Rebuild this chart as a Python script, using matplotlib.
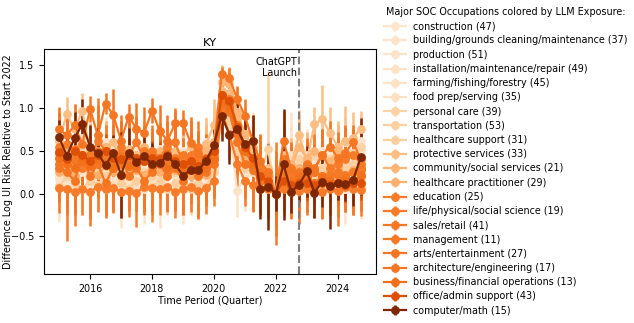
import numpy as np
import matplotlib
matplotlib.use('Agg')
from matplotlib import pyplot as plt

quarters = [2015 + 0.25 * i for i in range(40)]
chatgpt_launch = 2022.75

occupations = ['construction (47)', 'building/grounds cleaning/maintenance (37)', 'production (51)',
               'installation/maintenance/repair (49)', 'farming/fishing/forestry (45)', 'food prep/serving (35)',
               'personal care (39)', 'transportation (53)', 'healthcare support (31)', 'protective services (33)',
               'community/social services (21)', 'healthcare practitioner (29)', 'education (25)',
               'life/physical/social science (19)', 'sales/retail (41)', 'management (11)',
               'arts/entertainment (27)', 'architecture/engineering (17)', 'business/financial operations (13)',
               'office/admin support (43)', 'computer/math (15)']

# LLM exposure mapped onto the Oranges colormap
exposure = [0.13, 0.14, 0.14, 0.15, 0.15, 0.16, 0.24, 0.25, 0.26, 0.32, 0.35, 0.37,
            0.56, 0.56, 0.57, 0.57, 0.58, 0.58, 0.6, 0.72, 1.0]

construction = [0.45,0.40,0.30,0.50, 0.35,0.28,0.42,0.33, 0.30,0.38,0.25,0.40, 0.28,0.35,0.30,0.42, 0.25,0.30,0.22,0.35,
                0.55,1.38,1.33,0.88, 0.50,0.35,0.20,0.15, 0.00,0.25,0.30,0.48, 0.35,0.40,0.30,0.45, 0.38,0.40,0.35,0.50]
building = [0.20,0.15,0.05,0.25, 0.30,0.10,0.20,0.15, 0.25,0.12,0.20,0.08, 0.18,0.22,0.10,0.05, 0.15,0.20,0.08,0.12,
            0.35,1.05,0.95,0.60, 0.40,0.30,0.10,0.05, 0.00,0.15,0.20,0.35, 0.10,0.18,0.25,0.15, 0.20,0.30,0.22,0.18]
production = [0.60,0.55,0.50,0.65, 0.45,0.50,0.60,0.55, 0.48,0.42,0.55,0.50, 0.45,0.52,0.40,0.48, 0.50,0.38,0.42,0.60,
              0.62,1.20,1.18,0.75, 0.45,0.40,0.25,0.20, 0.00,0.30,0.40,0.62, 0.45,0.35,0.50,0.40, 0.55,0.60,0.45,0.62]
installation = [0.35,0.30,0.40,0.28, 0.38,0.30,0.25,0.40, 0.32,0.28,0.35,0.30, 0.38,0.30,0.28,0.35, 0.30,0.32,0.25,0.30,
                0.45,1.10,1.05,0.70, 0.50,0.38,0.18,0.10, 0.00,0.20,0.15,0.25, 0.30,0.22,0.28,0.30, 0.25,0.30,0.28,0.35]
farming = [0.17,0.40,0.10,0.30, 0.05,0.35,0.15,0.50, 0.10,0.25,0.40,0.05, 0.30,0.10,0.35,0.20, 0.05,0.40,0.10,0.25,
           0.60,0.95,0.80,0.03, 0.20,0.45,0.30,0.10, 0.00,0.20,0.45,0.40, 0.15,0.30,0.10,0.35, 0.20,0.05,0.30,0.10]
food_prep = [0.10,0.08,0.15,0.05, 0.12,0.10,0.05,0.15, 0.08,0.12,0.05,0.10, 0.15,0.08,0.10,0.05, 0.12,0.10,0.05,0.08,
             0.30,1.00,0.90,0.55, 0.35,0.25,0.10,0.05, 0.00,0.10,0.05,0.15, 0.08,0.12,0.05,0.10, 0.08,0.05,0.10,0.12]
personal_care = [0.50,0.45,0.38,0.55, 0.42,0.35,0.48,0.40, 0.45,0.38,0.30,0.45, 0.35,0.40,0.42,0.30, 0.38,0.35,0.30,0.40,
                 0.50,1.20,1.15,0.85, 0.60,0.45,0.25,0.20, 0.00,0.30,0.25,0.40, 0.35,0.45,0.30,0.40, 0.42,0.35,0.48,0.55]
transportation = [0.28,0.35,0.22,0.30, 0.25,0.32,0.20,0.28, 0.30,0.22,0.28,0.25, 0.20,0.28,0.32,0.25, 0.22,0.30,0.25,0.28,
                  0.40,1.05,1.00,0.65, 0.45,0.35,0.20,0.52, 0.00,0.18,0.35,0.30, 0.25,0.20,0.28,0.32, 0.30,0.25,0.35,0.30]
hc_support = [0.08,0.20,0.12,0.05, 0.15,0.10,0.20,0.08, 0.12,0.05,0.15,0.10, 0.08,0.15,0.05,0.12, 0.10,0.05,0.12,0.08,
              0.25,0.95,0.85,0.50, 0.30,0.25,0.15,0.10, 0.00,0.10,0.15,0.20, 0.10,0.15,0.08,0.20, 0.15,0.10,0.12,0.08]
protective = [0.62,0.93,0.75,0.97, 0.50,0.45,0.55,0.60, 0.40,0.52,0.45,0.48, 0.40,0.45,0.52,0.50, 0.45,0.55,0.40,0.58,
              0.80,1.20,1.18,0.90, 0.70,0.50,0.30,0.30, 0.00,0.45,0.35,0.68, 0.38,0.81,0.87,0.71, 0.55,0.62,0.65,0.76]
community = [0.40,0.50,0.45,0.35, 0.52,0.40,0.55,0.45, 0.50,0.42,0.38,0.55, 0.45,0.50,0.42,0.38, 0.45,0.40,0.35,0.50,
             0.60,1.30,1.28,0.95, 0.70,0.55,0.30,0.25, 0.00,0.35,0.30,0.55, 0.42,0.50,0.45,0.38, 0.50,0.48,0.45,0.42]
hc_practitioner = [0.25,0.30,0.20,0.35, 0.28,0.22,0.32,0.25, 0.20,0.30,0.28,0.22, 0.32,0.25,0.20,0.28, 0.25,0.20,0.28,0.22,
                   0.40,1.00,0.98,0.60, 0.40,0.32,0.20,0.15, 0.00,0.20,0.25,0.30, 0.22,0.28,0.20,0.25, 0.30,0.22,0.28,0.30]
education = [0.07,0.05,0.02,0.05, 0.02,0.08,0.05,0.07, 0.02,0.03,0.01,0.08, 0.07,0.05,0.08,0.02, 0.05,0.08,0.03,0.06,
             0.15,0.95,0.70,0.35, 0.15,0.10,0.05,0.05, 0.00,0.05,0.02,0.03, 0.05,0.03,0.02,0.05, 0.03,0.08,0.05,0.04]
life_science = [0.55,0.58,0.45,0.30, 0.38,0.62,0.50,0.35, 0.55,0.45,0.60,0.40, 0.50,0.42,0.55,0.60, 0.35,0.45,0.55,0.30,
                0.40,1.10,1.02,0.80, 0.55,0.40,0.30,0.20, 0.00,0.40,0.30,0.20, 0.35,0.30,0.45,0.30, 0.35,0.40,0.45,0.35]
sales = [0.35,0.42,0.38,0.45, 0.40,0.35,0.42,0.38, 0.35,0.40,0.42,0.38, 0.40,0.35,0.38,0.42, 0.35,0.38,0.30,0.35,
         0.45,1.15,1.10,0.80, 0.55,0.40,0.22,0.15, 0.00,0.22,0.20,0.25, 0.22,0.25,0.20,0.22, 0.25,0.22,0.25,0.28]
management = [0.48,0.40,0.52,0.42, 0.45,0.50,0.40,0.48, 0.42,0.45,0.38,0.50, 0.45,0.42,0.48,0.40, 0.45,0.35,0.40,0.42,
              0.50,1.12,1.05,0.70, 0.50,0.38,0.20,0.12, 0.00,0.25,0.18,0.22, 0.20,0.25,0.18,0.20, 0.22,0.20,0.25,0.30]
arts = [0.76,0.68,0.80,0.58, 0.99,0.68,1.05,0.92, 0.62,0.90,0.76,0.71, 0.97,0.73,0.62,0.82, 0.83,0.59,0.48,0.40,
        0.50,1.40,1.35,1.11, 0.91,0.62,0.38,0.25, 0.00,0.62,0.28,0.22, 0.33,0.28,0.45,0.55, 0.42,0.48,0.60,0.40]
architecture = [0.30,0.25,0.15,0.45, 0.20,0.35,0.12,0.30, 0.45,0.20,0.30,0.15, 0.25,0.35,0.20,0.30, 0.15,0.28,0.20,0.25,
                0.35,1.05,0.95,0.60, 0.35,0.28,0.15,0.10, 0.00,0.20,0.10,0.15, 0.18,0.12,0.20,0.15, 0.12,0.18,0.15,0.20]
business = [0.42,0.35,0.30,0.38, 0.32,0.40,0.35,0.30, 0.38,0.32,0.35,0.40, 0.32,0.38,0.30,0.35, 0.30,0.32,0.28,0.30,
            0.40,1.08,1.00,0.72, 0.50,0.35,0.18,0.10, 0.00,0.15,0.12,0.18, 0.15,0.12,0.18,0.15, 0.12,0.15,0.12,0.22]
office_admin = [0.49,0.40,0.50,0.45, 0.38,0.45,0.50,0.42, 0.40,0.45,0.42,0.38, 0.42,0.40,0.45,0.38, 0.35,0.38,0.32,0.40,
                0.50,1.15,1.08,0.78, 0.55,0.42,0.20,0.15, 0.00,0.15,0.10,0.12, 0.12,0.10,0.12,0.10, 0.12,0.10,0.12,0.12]
computer_math = [0.66,0.44,0.65,0.81, 0.55,0.47,0.33,0.48, 0.22,0.47,0.37,0.44, 0.34,0.36,0.44,0.34, 0.21,0.28,0.28,0.38,
                 0.57,0.91,0.69,0.75, 0.58,0.62,0.05,0.08, 0.00,0.34,0.02,0.10, 0.26,0.01,0.14,0.09, 0.12,0.11,0.16,0.43]

# standard errors (half length of the error bars)
err_construction = [0.5,0.3,0.4,0.3, 0.3,0.4,0.3,0.4, 0.3,0.4,0.5,0.3, 0.4,0.3,0.3,0.4, 0.3,0.3,0.4,0.3,
                    0.3,0.1,0.15,0.2, 0.3,0.3,0.3,0.3, 0.3,0.4,0.3,0.2, 0.3,0.4,0.3,0.3, 0.3,0.3,0.3,0.3]
err_building = [0.3,0.3,0.3,0.3, 0.3,0.3,0.4,0.3, 0.3,0.3,0.3,0.3, 0.3,0.3,0.3,0.3, 0.3,0.3,0.3,0.3,
                0.3,0.2,0.2,0.3, 0.3,0.3,0.3,0.3, 0.3,0.3,0.3,0.3, 0.3,0.3,0.3,0.3, 0.3,0.3,0.3,0.3]
err_production = [0.4,0.3,0.3,0.3, 0.3,0.3,0.3,0.3, 0.3,0.3,0.3,0.3, 0.3,0.3,0.3,0.3, 0.3,0.3,0.3,0.3,
                  0.3,0.2,0.2,0.3, 0.3,0.3,0.3,0.3, 0.3,0.3,0.4,0.3, 0.3,0.3,0.3,0.3, 0.3,0.3,0.3,0.3]
err_installation = [0.3,0.3,0.3,0.3, 0.3,0.3,0.3,0.3, 0.3,0.3,0.3,0.3, 0.3,0.3,0.3,0.3, 0.3,0.3,0.3,0.3,
                    0.3,0.2,0.2,0.3, 0.3,0.3,0.3,0.3, 0.3,0.3,0.3,0.3, 0.3,0.3,0.3,0.3, 0.3,0.3,0.3,0.3]
err_farming = [0.5,0.5,0.4,0.5, 0.4,0.5,0.4,0.5, 0.5,0.4,0.5,0.4, 0.4,0.5,0.4,0.4, 0.4,0.5,0.4,0.4,
               0.4,0.3,0.4,0.3, 0.4,0.5,0.4,0.4, 0.4,0.5,0.5,0.4, 0.4,0.5,0.4,0.4, 0.4,0.4,0.4,0.4]
err_food_prep = [0.2,0.2,0.2,0.2, 0.2,0.2,0.2,0.2, 0.2,0.2,0.2,0.2, 0.2,0.2,0.2,0.2, 0.2,0.2,0.2,0.2,
                 0.2,0.15,0.15,0.2, 0.2,0.2,0.2,0.2, 0.2,0.2,0.2,0.2, 0.2,0.2,0.2,0.2, 0.2,0.2,0.2,0.2]
err_personal_care = [0.3,0.4,0.3,0.3, 0.4,0.3,0.3,0.3, 0.4,0.3,0.3,0.3, 0.3,0.4,0.3,0.3, 0.3,0.3,0.3,0.3,
                     0.3,0.2,0.2,0.3, 0.3,0.3,0.3,0.3, 0.3,0.3,0.3,0.3, 0.3,0.3,0.3,0.3, 0.3,0.3,0.3,0.3]
err_transportation = [0.3,0.3,0.3,0.3, 0.3,0.3,0.3,0.3, 0.3,0.3,0.3,0.3, 0.3,0.3,0.3,0.3, 0.3,0.3,0.3,0.3,
                      0.3,0.2,0.2,0.3, 0.3,0.3,0.3,0.9, 0.3,0.3,0.3,0.3, 0.3,0.3,0.3,0.3, 0.3,0.3,0.3,0.3]
err_hc_support = [0.3,0.3,0.3,0.3, 0.3,0.3,0.3,0.3, 0.3,0.3,0.3,0.3, 0.3,0.3,0.3,0.3, 0.3,0.3,0.3,0.3,
                  0.3,0.2,0.2,0.3, 0.3,0.3,0.3,0.3, 0.3,0.3,0.3,0.3, 0.3,0.3,0.3,0.3, 0.3,0.3,0.3,0.3]
err_protective = [0.3,0.2,0.3,0.2, 0.3,0.3,0.3,0.3, 0.3,0.3,0.3,0.3, 0.3,0.3,0.3,0.3, 0.3,0.3,0.3,0.3,
                  0.3,0.2,0.2,0.3, 0.3,0.3,0.3,0.3, 0.3,0.3,0.3,0.3, 0.3,0.2,0.4,0.3, 0.3,0.4,0.3,0.2]
err_community = [0.3,0.3,0.3,0.3, 0.3,0.3,0.3,0.3, 0.3,0.3,0.3,0.3, 0.3,0.3,0.3,0.3, 0.3,0.3,0.3,0.3,
                 0.3,0.2,0.2,0.3, 0.3,0.3,0.3,0.3, 0.3,0.3,0.3,0.3, 0.3,0.3,0.3,0.3, 0.3,0.3,0.3,0.3]
err_hc_practitioner = [0.25,0.25,0.25,0.25, 0.25,0.25,0.25,0.25, 0.25,0.25,0.25,0.25, 0.25,0.25,0.25,0.25,
                       0.25,0.25,0.25,0.25, 0.25,0.2,0.2,0.25, 0.25,0.25,0.25,0.25, 0.25,0.25,0.25,0.25,
                       0.25,0.25,0.25,0.25, 0.25,0.25,0.25,0.25]
err_education = [0.3,0.6,0.4,0.3, 0.4,0.3,0.3,0.3, 0.3,0.3,0.4,0.3, 0.4,0.3,0.3,0.3, 0.3,0.3,0.3,0.3,
                 0.3,0.25,0.3,0.3, 0.3,0.3,0.3,0.3, 0.6,0.3,0.3,0.3, 0.3,0.3,0.3,0.3, 0.3,0.3,0.3,0.3]
err_life_science = [0.4,0.3,0.4,0.3, 0.4,0.5,0.3,0.4, 0.3,0.4,0.3,0.4, 0.3,0.4,0.3,0.4, 0.3,0.4,0.3,0.4,
                    0.3,0.3,0.3,0.3, 0.4,0.3,0.4,0.3, 0.4,0.4,0.3,0.4, 0.3,0.4,0.3,0.4, 0.3,0.4,0.3,0.4]
err_sales = [0.2,0.2,0.2,0.2, 0.2,0.2,0.2,0.2, 0.2,0.2,0.2,0.2, 0.2,0.2,0.2,0.2, 0.2,0.2,0.2,0.2,
             0.2,0.15,0.15,0.2, 0.2,0.2,0.2,0.2, 0.2,0.2,0.2,0.2, 0.2,0.2,0.2,0.2, 0.2,0.2,0.2,0.2]
err_management = [0.2,0.2,0.2,0.2, 0.2,0.2,0.2,0.2, 0.2,0.2,0.2,0.2, 0.2,0.2,0.2,0.2, 0.2,0.2,0.2,0.2,
                  0.2,0.15,0.15,0.2, 0.2,0.2,0.2,0.2, 0.2,0.2,0.2,0.2, 0.2,0.2,0.2,0.2, 0.2,0.2,0.2,0.2]
err_arts = [0.25,0.3,0.25,0.3, 0.15,0.35,0.12,0.3, 0.3,0.15,0.3,0.3, 0.15,0.3,0.3,0.15, 0.15,0.3,0.25,0.3,
            0.3,0.08,0.12,0.15, 0.2,0.3,0.3,0.3, 0.35,0.35,0.3,0.3, 0.3,0.3,0.3,0.3, 0.3,0.3,0.2,0.3]
err_architecture = [0.4,0.5,0.4,0.4, 0.5,0.4,0.4,0.5, 0.4,0.4,0.5,0.4, 0.5,0.4,0.4,0.5, 0.4,0.4,0.5,0.4,
                    0.4,0.3,0.3,0.4, 0.4,0.5,0.4,0.4, 0.5,0.4,0.4,0.5, 0.4,0.4,0.5,0.4, 0.5,0.4,0.4,0.4]
err_business = [0.25,0.25,0.25,0.25, 0.25,0.25,0.25,0.25, 0.25,0.25,0.25,0.25, 0.25,0.25,0.25,0.25,
                0.25,0.25,0.25,0.25, 0.25,0.2,0.2,0.25, 0.25,0.25,0.25,0.25, 0.25,0.25,0.25,0.25,
                0.25,0.25,0.25,0.25, 0.25,0.25,0.25,0.25]
err_office_admin = [0.2,0.2,0.2,0.2, 0.2,0.2,0.2,0.2, 0.2,0.2,0.2,0.2, 0.2,0.2,0.2,0.2, 0.2,0.2,0.2,0.2,
                    0.2,0.15,0.15,0.2, 0.2,0.2,0.2,0.2, 0.2,0.2,0.2,0.2, 0.2,0.2,0.2,0.2, 0.2,0.2,0.2,0.2]
err_computer_math = [0.2,0.25,0.3,0.3, 0.25,0.3,0.25,0.2, 0.5,0.3,0.25,0.25, 0.25,0.2,0.2,0.25, 0.2,0.2,0.2,0.2,
                     0.25,0.3,0.35,0.3, 0.3,0.3,0.35,0.5, 0.2,0.65,0.25,0.2, 0.3,0.3,0.3,0.5, 0.2,0.2,0.3,0.45]

values = [construction, building, production, installation, farming, food_prep, personal_care, transportation,
          hc_support, protective, community, hc_practitioner, education, life_science, sales, management,
          arts, architecture, business, office_admin, computer_math]
errors = [err_construction, err_building, err_production, err_installation, err_farming, err_food_prep,
          err_personal_care, err_transportation, err_hc_support, err_protective, err_community,
          err_hc_practitioner, err_education, err_life_science, err_sales, err_management, err_arts,
          err_architecture, err_business, err_office_admin, err_computer_math]

plt.rcParams['font.size'] = 6.9

fig = plt.figure(figsize=(6.34, 3.23), dpi=100)
ax = fig.add_axes([44 / 634, 1 - 274 / 323, 332 / 634, 225 / 323])

cmap = plt.get_cmap('Oranges')
for name, c, y, e in zip(occupations, exposure, values, errors):
    ax.errorbar(quarters, y, yerr=e, color=cmap(c), marker='o', markersize=5.3,
                linewidth=1.6, elinewidth=1.8, capsize=0, label=name)

ax.axvline(chatgpt_launch, color='gray', linestyle='--', linewidth=1.5)
ax.text(chatgpt_launch - 0.05, 1.6, 'ChatGPT\nLaunch', ha='right', va='top')

ax.set_ylim(-0.94, 1.69)
ax.set_xticks([2016, 2018, 2020, 2022, 2024])
ax.set_title('KY', pad=2.5)
ax.set_xlabel('Time Period (Quarter)', labelpad=1)
ax.set_ylabel('Difference Log UI Risk Relative to Start 2022')
ax.yaxis.set_label_coords(-0.093, 0.5)

ax.legend(loc='upper left', bbox_to_anchor=(378 / 634, 0.996), bbox_transform=fig.transFigure,
          frameon=False, title='Major SOC Occupations colored by LLM Exposure:',
          borderaxespad=0.2, labelspacing=0.44, handlelength=2.3)

fig.savefig('out.png', dpi=100)
